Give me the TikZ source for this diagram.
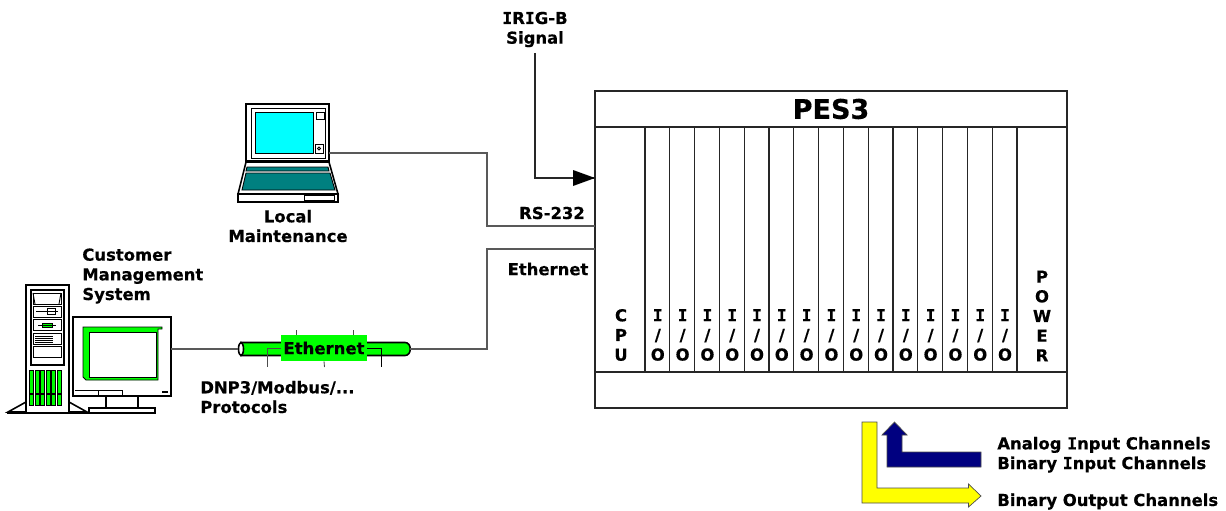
\documentclass[tikz,border=0pt]{standalone}
\usepackage{fontspec}
\setmainfont{DejaVu Sans}[BoldFeatures={FakeBold=0.5}]
\newfontfamily\barfont{DejaVu Sans Mono}[BoldFeatures={FakeBold=0.5}]
\newcommand{\barI}{{\barfont I}}
\definecolor{ethgreen}{RGB}{0,255,0}
\definecolor{lapteal}{RGB}{0,128,128}
\definecolor{lapcyan}{RGB}{0,255,255}
\definecolor{chanblue}{RGB}{0,0,128}
\definecolor{chanyellow}{RGB}{255,255,0}
\tikzset{
  lbl/.style={font=\fontsize{9.35}{11.2}\selectfont\bfseries,inner sep=0pt,align=center},
  lblleft/.style={lbl,align=left,anchor=west},
  slotlbl/.style={lbl},
  rackline/.style={draw=black!85,line width=0.7pt},
  cable/.style={draw=black!65,line width=0.6pt},
  icon/.style={draw=black,line width=0.9pt},
  thin icon/.style={draw=black,line width=0.5pt}
}
\begin{document}
\begin{tikzpicture}[x=0.02cm,y=-0.02cm]
    \useasboundingbox (0,0) rectangle (1226,510);

    \begin{scope}
      \node[rackline,inner sep=0pt,minimum width=9.44cm,minimum height=6.34cm] (rack) at (831,249.5) {};
      \node[lbl,font=\fontsize{15.4}{17}\selectfont\bfseries] (rackname) at (831,109) {PES3};
      \draw[rackline] (rack.west |- 0,127) -- (rack.east |- 0,127);
      \draw[rackline] (rack.west |- 0,372) -- (rack.east |- 0,372);
      \foreach \i in {0,...,15}
        \draw[rackline] (645+24.8*\i,127) -- (645+24.8*\i,372);
      \node[slotlbl] (cpu) at (621,335) {C\\P\\U};
      \foreach \i in {0,...,14}
        \node[slotlbl] (io\i) at (657.8+24.8*\i,335) {\barI\\/\\O};
      \node[slotlbl] (power) at (1042,316) {P\\O\\W\\E\\R};
    \end{scope}

    \begin{scope}
      \filldraw[icon,fill=white] (246,104) rectangle (329,161);
      \draw[thin icon] (251,108) rectangle (325,158);
      \filldraw[thin icon,fill=lapcyan] (255,112) rectangle (313,153);
      \draw[thin icon] (316,112) rectangle (324,119);
      \draw[thin icon] (315,144) rectangle (323,153);
      \draw[thin icon] (319,148.5) circle (1.5);
      \filldraw[icon,fill=white] (246,162) -- (329,162) -- (338,194) -- (238,194) -- cycle;
      \filldraw[thin icon,fill=lapteal] (247,167) -- (328,167) -- (329,171) -- (246,171) -- cycle;
      \filldraw[thin icon,fill=lapteal] (246,173) -- (330,173) -- (335,190) -- (242,190) -- cycle;
      \draw[icon] (238,194) rectangle (338,202);
      \draw[thin icon] (304,195.5) rectangle (334,200.5);
      \coordinate (lapport) at (329,153);
      \node[lbl] (laplbl) at (288,226) {Local\\Maintenance};
    \end{scope}

    \begin{scope}
      \filldraw[icon,fill=white] (8,412) -- (26,402) -- (26,412) -- cycle;
      \filldraw[icon,fill=white] (87,412) -- (69,402) -- (69,412) -- cycle;
      \draw[icon] (8,412) -- (8,413) -- (87,413) -- (87,412);
      \filldraw[icon,fill=white] (26,285) rectangle (69,413);
      \draw[icon] (31,290) rectangle (64,365);
      \draw[thin icon] (33,293) rectangle (61,304);
      \draw[thin icon] (35,304) -- (33,293) (59,304) -- (61,293);
      \draw[thin icon] (33,306) rectangle (61,317);
      \draw[thin icon] (36,311.5) -- (58,311.5);
      \draw[thin icon] (47,308.5) rectangle (55,314.5);
      \draw[thin icon] (33,319) rectangle (61,330);
      \filldraw[thin icon,fill=ethgreen] (42,323) rectangle (52,327);
      \draw[thin icon] (38,325) -- (56,325);
      \draw[thin icon] (33,333) rectangle (61,344);
      \foreach \i in {336,338,340,342}
        \draw[thin icon] (35,\i) -- (53,\i);
      \draw[thin icon] (33,346) rectangle (61,357);
      \foreach \i in {0,...,5} {
        \filldraw[thin icon,fill=ethgreen] (29.5+5.6*\i,370) rectangle (33.5+5.6*\i,393);
        \filldraw[thin icon,fill=ethgreen] (29.5+5.6*\i,394) rectangle (33.5+5.6*\i,405);
      }
      \filldraw[icon,fill=white] (73,317) rectangle (171,396);
      \filldraw[thin icon,fill=ethgreen] (83,327) -- (162,327) -- (162,329) -- (158,329) -- (158,380) -- (86,380) -- (83,377) -- cycle;
      \filldraw[thin icon,fill=white] (89,332) rectangle (156,377);
      \draw[thin icon] (75,390) -- (122,390) -- (122,396);
      \draw[thin icon] (98,390) -- (98,396);
      \filldraw[thin icon,fill=black!70] (162,391) rectangle (167,392.5);
      \draw[icon] (106,396) -- (106,408) (138,396) -- (138,408);
      \filldraw[icon,fill=white] (89,408) rectangle (155,413);
      \coordinate (pcport) at (171,349);
      \node[lblleft] (pclbl) at (82,276) {Customer\\Management\\System};
    \end{scope}

    \begin{scope}
      \coordinate (cableleft) at (238,349);
      \coordinate (cableright) at (410,349);
      \filldraw[icon,fill=ethgreen] (241,342.5) -- (405,342.5) .. controls (412,342.5) and (412,355.5) .. (405,355.5) -- (241,355.5) -- cycle;
      \filldraw[icon,fill=white] (241,349) ellipse [x radius=2.5,y radius=6.5];
      \coordinate (dropleft) at (267,367);
      \coordinate (dropmid) at (324.5,367);
      \coordinate (dropright) at (381,367);
      \foreach \i in {296,353}
        \draw[thin icon,draw=black!70] (\i,330) -- (\i,336);
      \node[fill=ethgreen,lbl,font=\fontsize{9.4}{11}\selectfont\bfseries,minimum width=1.72cm,minimum height=0.52cm] (ethbox) at (324,348) {Ethernet};
      \draw[thin icon,draw=black!70] (ethbox.west) -| (dropleft);
      \draw[thin icon,draw=black!70] (ethbox.south) -- (dropmid);
      \draw[thin icon] (ethbox.east) -| (dropright);
      \node[lblleft] (protolbl) at (200,397) {DNP3/Modbus/...\\Protocols};
    \end{scope}

    \coordinate (rsbend) at (487,226);
    \coordinate (rsport) at (595,226);
    \coordinate (ethbend) at (487,249);
    \coordinate (ethport) at (595,249);
    \coordinate (irigtop) at (535,53);
    \coordinate (irigbend) at (535,178);
    \coordinate (irigport) at (595,178);

    \draw[cable] (lapport) -| (rsbend) -- (rsport);
    \draw[cable] (pcport) -- (cableleft);
    \draw[cable] (cableright) -| (ethbend) -- (ethport);
    \draw[cable,draw=black!85] (irigtop) -- (irigbend) -- (irigport);
    \fill[black] (573,170) -- (595,178) -- (573,186) -- cycle;

    \node[lbl] (iriglbl) at (535,29.5) {\barI{}R\barI{}G-B\\Signal};
    \node[lbl] (rslbl) at (552,213) {RS-232};
    \node[lbl] (ethlbl) at (548,269) {Ethernet};

    \filldraw[draw=black!70,line width=0.4pt,fill=chanyellow] (862,422) -- (877,422) -- (877,488) -- (968.5,488) -- (968.5,484) -- (981,496) -- (968.5,507) -- (968.5,503) -- (862,503) -- cycle;
    \filldraw[draw=black!70,line width=0.4pt,fill=chanblue] (981,467) -- (887,467) -- (887,435) -- (882,435) -- (894.5,422) -- (907,435) -- (902,435) -- (902,452) -- (981,452) -- cycle;
    \node[lblleft] (anlbl) at (997,454.7) {Analog \barI{}nput Channels\\Binary \barI{}nput Channels};
    \node[lblleft] (binlbl) at (997,501.5) {Binary Output Channels};
\end{tikzpicture}
\end{document}
